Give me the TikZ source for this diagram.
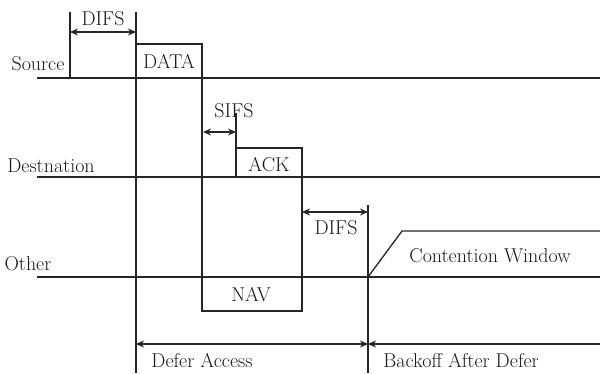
\documentclass[tikz,border=0pt]{standalone}
\usetikzlibrary{arrows.meta}
\begin{document}
\begin{tikzpicture}[x=1pt,y=-1pt, line width=1.3pt, color=black!85,
  lbl/.style={font=\fontsize{20}{20}\selectfont, inner sep=0pt, anchor=base, text=black!90},
  dim/.style={{Stealth[length=8pt,width=7pt]}-{Stealth[length=8pt,width=7pt]}},
  ldim/.style={{Stealth[length=8pt,width=7pt]}-}]
\useasboundingbox (0,0) rectangle (600,373);
% named coordinates
\coordinate (sL) at (37,78);   \coordinate (sR) at (600,78);
\coordinate (dL) at (37,177);  \coordinate (dR) at (600,177);
\coordinate (oL) at (37,277);  \coordinate (oR) at (600,277);
\coordinate (p0) at (70,12);   \coordinate (p0b) at (70,78);
\coordinate (t1) at (136,12);  \coordinate (t1b) at (136,373);
\coordinate (dataTL) at (136,44); \coordinate (dataTR) at (202,44);
\coordinate (navBL) at (202,311); \coordinate (navBR) at (302,311);
\coordinate (ackTR) at (302,148); \coordinate (ackTL) at (236,148);
\coordinate (sifsT) at (236,113); \coordinate (sifsB) at (236,177);
\coordinate (t2) at (368,205); \coordinate (t2b) at (368,373);
\coordinate (cw0) at (368,277); \coordinate (cw1) at (402,231); \coordinate (cw2) at (600,231);
\coordinate (a1L) at (70,32);  \coordinate (a1R) at (136,32);
\coordinate (a2L) at (203,132); \coordinate (a2R) at (236,132);
\coordinate (a3L) at (302,212); \coordinate (a3R) at (368,212);
\coordinate (a4L) at (136,344); \coordinate (a4R) at (368,344);
\coordinate (a5L) at (368,344); \coordinate (a5R) at (600,344);
% lines
\draw (sL) -- (sR);
\draw (dL) -- (dR);
\draw (oL) -- (oR);
\draw (p0) -- (p0b);
\draw (t1) -- (t1b);
\draw (dataTL) -- (dataTR) -- (navBL) -- (navBR) -- (ackTR) -- (ackTL);
\draw (sifsT) -- (sifsB);
\draw (t2) -- (t2b);
\draw (cw0) -- (cw1) -- (cw2);
% dimension arrows
\draw[dim] (a1L) -- (a1R);
\draw[dim] (a2L) -- (a2R);
\draw[dim] (a3L) -- (a3R);
\draw[dim] (a4L) -- (a4R);
\draw[ldim] (a5L) -- (a5R);
% labels
\node[lbl] (difs1) at (103,25) {DIFS};
\node[lbl] (src) at (38,70) {Source};
\node[lbl] (data) at (169,68) {DATA};
\node[lbl] (sifs) at (234,117) {SIFS};
\node[lbl] (ack) at (269,171) {ACK};
\node[lbl] (dst) at (51,172) {Destnation};
\node[lbl] (difs2) at (336,234) {DIFS};
\node[lbl] (cw) at (490,262) {Contention Window};
\node[lbl] (oth) at (28,270) {Other};
\node[lbl] (nav) at (251,301) {NAV};
\node[lbl] (defer) at (202,367) {Defer Access};
\node[lbl] (back) at (461,367) {Backoff After Defer};
\end{tikzpicture}
\end{document}
